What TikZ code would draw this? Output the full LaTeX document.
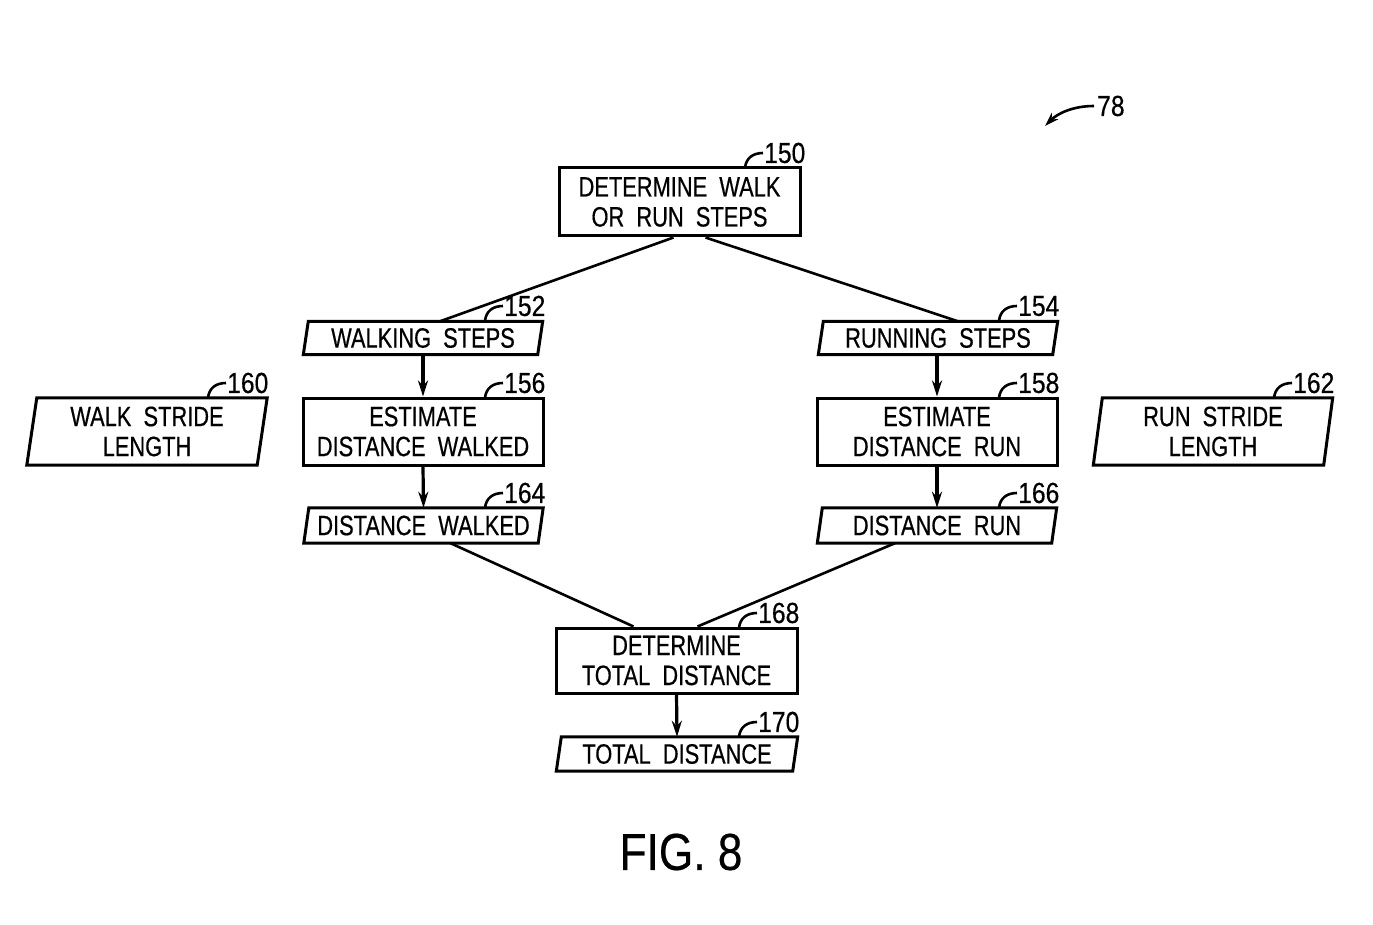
\documentclass[tikz,border=0pt]{standalone}
\usepackage{fontspec}
\newfontfamily\pf{Liberation Sans}[FakeStretch=0.78,WordSpace=2,FakeBold=0.5]
\newfontfamily\pg{Liberation Sans}[FakeStretch=0.85,FakeBold=0.4]
\usetikzlibrary{arrows.meta,calc}
\tikzset{
  x=1pt,y=-1pt,
  txt/.style={font=\pf\fontsize{28}{30}\selectfont,align=center,inner sep=0pt},
  boxnode/.style={txt,draw,line width=3pt,rectangle,minimum width=#1,minimum height=66pt},
  paranode/.style={txt,rectangle,minimum width=#1,minimum height=34pt},
  outline/.style={line width=3pt,line join=miter},
  conn/.style={line width=2.6pt},
  arr/.style={line width=3.2pt,-{Stealth[length=16pt,width=10pt]}},
  hook/.style={line width=2.6pt},
  num/.style={font=\pg\fontsize{29}{30}\selectfont,inner sep=0pt,anchor=west},
}
\newcommand{\paradraw}[2]{% name, half-slant
  \draw[outline] ([xshift=#2]#1.north west) -- ([xshift=#2]#1.north east) -- ([xshift=-#2]#1.south east) -- ([xshift=-#2]#1.south west) -- cycle;}
\newcommand{\refnum}[3]{% hook start coordinate, name, text
  \coordinate (#2h) at #1;
  \node[num] (#2) at ($(#2h)+(19,-15)$) {#3};
  \draw[hook] (#2h) .. controls +(1,-10) and +(-10,0) .. ([xshift=-1pt]#2.west);}
\begin{document}
\begin{tikzpicture}
\useasboundingbox[fill=white] (0,0) rectangle (1373,925);
% nodes
\node[boxnode=241pt,minimum height=68pt] (b150) at (679.5,202) {DETERMINE WALK\\OR RUN STEPS};
\node[paranode=234pt,minimum height=33pt] (p152) at (423,338) {WALKING STEPS};
\node[paranode=234pt,minimum height=33pt] (p154) at (938,338) {RUNNING STEPS};
\node[boxnode=240pt,minimum height=67pt] (b156) at (423,431.5) {ESTIMATE\\DISTANCE WALKED};
\node[boxnode=240pt,minimum height=67pt] (b158) at (937,431.5) {ESTIMATE\\DISTANCE RUN};
\node[paranode=230pt,minimum height=67pt] (p160) at (147,431.5) {WALK STRIDE\\LENGTH};
\node[paranode=230pt,minimum height=67pt] (p162) at (1213,431.5) {RUN STRIDE\\LENGTH};
\node[paranode=234pt,minimum height=35pt] (p164) at (423.5,525.5) {DISTANCE WALKED};
\node[paranode=234pt,minimum height=35pt] (p166) at (937,525.5) {DISTANCE RUN};
\node[boxnode=241pt,minimum height=65pt] (b168) at (676.5,660.5) {DETERMINE\\TOTAL DISTANCE};
\node[paranode=236pt,minimum height=34pt] (p170) at (677,754) {TOTAL DISTANCE};
\paradraw{p152}{2.5pt}
\paradraw{p154}{2.5pt}
\paradraw{p160}{5pt}
\paradraw{p162}{4.5pt}
\paradraw{p164}{2.5pt}
\paradraw{p166}{2.5pt}
\paradraw{p170}{2.5pt}
% connectors
\draw[conn] ([xshift=-6pt]b150.south) -- ([xshift=17pt]p152.north);
\draw[conn] ([xshift=26pt]b150.south) -- ([xshift=20pt]p154.north);
\draw[arr] (p152.south) -- (b156.north);
\draw[arr] (b156.south) -- (p164.north);
\draw[arr] ([xshift=-1pt]p154.south) -- (b158.north);
\draw[arr] (b158.south) -- (p166.north);
\draw[conn] ([xshift=27pt]p164.south) -- ([xshift=-43pt]b168.north);
\draw[conn] ([xshift=-42pt]p166.south) -- ([xshift=21pt]b168.north);
\draw[arr] (b168.south) -- (p170.north);
% reference numerals
\refnum{(745,168)}{n150}{150}
\refnum{(485,321)}{n152}{152}
\refnum{(999,321)}{n154}{154}
\refnum{(485,398)}{n156}{156}
\refnum{(999,398)}{n158}{158}
\refnum{(208,398)}{n160}{160}
\refnum{(1274,398)}{n162}{162}
\refnum{(485,508)}{n164}{164}
\refnum{(999,508)}{n166}{166}
\refnum{(739,628)}{n168}{168}
\refnum{(739,737)}{n170}{170}
% figure reference
\node[num] (n78) at (1097,106) {78};
\coordinate (a78) at (1045,126);
\draw[line width=2.6pt,-{Stealth[length=14pt,width=9pt]}] ([xshift=-3pt]n78.west) .. controls +(-22,0) and +(12,-12) .. (a78);
\node[font=\pg\fontsize{52}{56}\selectfont,inner sep=0pt] (fig) at (681,852) {FIG. 8};
\end{tikzpicture}
\end{document}
